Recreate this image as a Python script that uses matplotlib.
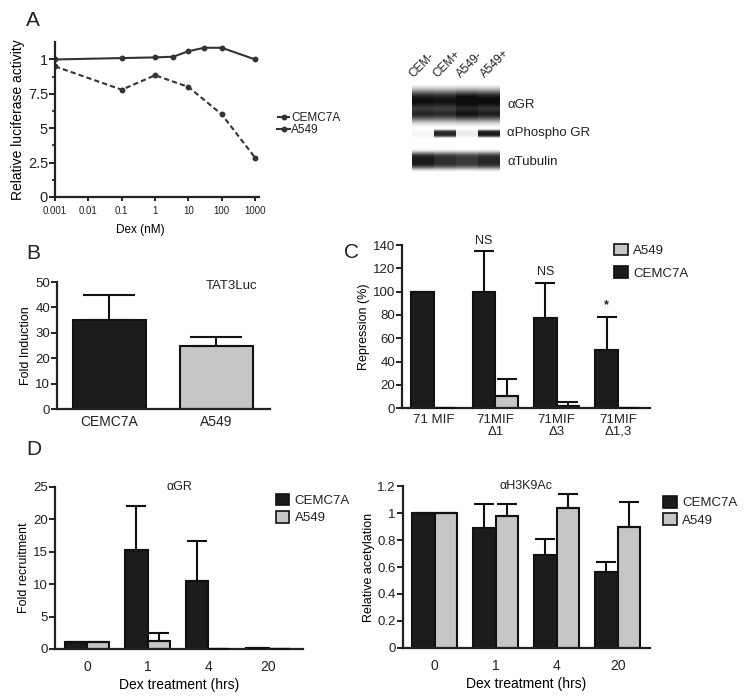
import numpy as np
import matplotlib
matplotlib.use('Agg')
import matplotlib.pyplot as plt
from matplotlib.patches import Patch

plt.rcParams['font.family'] = ['Liberation Sans', 'DejaVu Sans']
plt.rcParams['text.color'] = '#222222'
plt.rcParams['axes.edgecolor'] = '#222222'
plt.rcParams['xtick.color'] = '#222222'
plt.rcParams['ytick.color'] = '#222222'

DARK = '#1c1c1c'
LIGHT = '#c6c6c6'

# ---- data ----
# A: dose response
dex_a549 = [0.001, 0.1, 1, 3.5, 10, 30, 100, 1000]
luc_a549 = [10.0, 10.1, 10.15, 10.2, 10.6, 10.85, 10.85, 10.0]
dex_cem = [0.001, 0.1, 1, 10, 100, 1000]
luc_cem = [9.5, 7.8, 8.85, 8.0, 6.0, 2.85]

# A: western blot (band intensity per lane)
blot_lanes = ['CEM-', 'CEM+', 'A549-', 'A549+']
blot_rows = ['\u03b1GR', '\u03b1Phospho GR', '\u03b1Tubulin']
blot_gr = [0.92, 0.9, 1.0, 0.95]
blot_phospho = [0.04, 0.85, 0.08, 0.9]
blot_tubulin = [0.9, 0.82, 0.78, 0.85]

# B: TAT3Luc
b_cells = ['CEMC7A', 'A549']
b_fold = [35, 25]
b_err = [10, 3.5]

# C: repression
c_constructs = ['71 MIF', '71MIF\n\u03941', '71MIF\n\u03943', '71MIF\n\u03941,3']
c_cem = [100, 100, 77, 50]
c_cem_err = [0, 35, 30, 28]
c_a549 = [0, 10, 2, 0]
c_a549_err = [0, 15, 3, 0]
c_sig = ['', 'NS', 'NS', '*']
c_sig_y = [0, 138, 112, 83]

# D: ChIP
d_times = ['0', '1', '4', '20']
gr_cem = [1.0, 15.3, 10.5, 0.2]
gr_cem_err = [0, 6.7, 6.2, 0]
gr_a549 = [1.0, 1.3, 0.0, 0.05]
gr_a549_err = [0, 1.2, 0, 0]
ac_cem = [1.0, 0.89, 0.69, 0.56]
ac_cem_err = [0, 0.18, 0.12, 0.08]
ac_a549 = [1.0, 0.98, 1.04, 0.9]
ac_a549_err = [0, 0.09, 0.1, 0.18]

fig = plt.figure(figsize=(7.5, 7.0), dpi=100)


def style(ax, fs=9.5):
    for s in ['top', 'right']:
        ax.spines[s].set_visible(False)
    for s in ['left', 'bottom']:
        ax.spines[s].set_linewidth(1.6)
    ax.tick_params(axis='y', length=4, width=1.4, labelsize=fs, pad=1)
    ax.tick_params(axis='x', labelsize=fs)


def bars(ax, x, vals, errs, color, width, capsize):
    ax.bar(x, vals, width, color=color, edgecolor='#111111', linewidth=1.5, zorder=2)
    ax.errorbar(x, vals, yerr=[np.zeros(len(vals)), errs], fmt='none',
                ecolor='#111111', elinewidth=1.5, capsize=capsize, capthick=1.5, zorder=3)


# ---- panel A line plot ----
axA = fig.add_axes([0.0733, 0.7186, 0.272, 0.222])
style(axA)
axA.plot(dex_cem, luc_cem, '--', color='#333333', lw=1.5, dashes=(2.5, 1.5),
         marker='o', ms=3.2, label='CEMC7A')
axA.plot(dex_a549, luc_a549, '-', color='#333333', lw=1.5,
         marker='o', ms=3.2, label='A549')
axA.set_xscale('log')
axA.set_xlim(0.001, 1300)
axA.set_ylim(0, 11.3)
axA.set_xticks([0.001, 0.01, 0.1, 1, 10, 100, 1000])
axA.set_xticklabels(['0.001', '0.01', '0.1', '1', '10', '100', '1000'])
axA.xaxis.set_minor_locator(matplotlib.ticker.NullLocator())
axA.tick_params(axis='x', length=3, width=1.4, labelsize=7)
axA.set_yticks([0, 2.5, 5, 7.5, 10])
axA.set_yticklabels(['0', '2.5', '5', '7.5', '1'], fontsize=10.5)
axA.set_yticks([1.25, 3.75, 6.25, 8.75], minor=True)
axA.tick_params(axis='y', which='minor', length=2.5, width=1.2)
axA.set_xlabel('Dex (nM)', fontsize=8.5, labelpad=6, x=0.42)
axA.set_ylabel('Relative luciferase activity', fontsize=10, labelpad=2)
axA.legend(loc='center left', bbox_to_anchor=(1.06, 0.47), frameon=False,
           fontsize=8.5, handlelength=1.1, handletextpad=0.1, labelspacing=0.0,
           borderpad=0)

# ---- panel A western blot (bands built from lane intensities) ----
axW = fig.add_axes([412 / 750, 1 - 172 / 700, 88 / 750, 87 / 700])
axW.axis('off')
rows = np.arange(87)[:, None]
lane_w = 22


def band(intens, center, half, doublet=False):
    prof = np.exp(-0.5 * ((rows - center) / half) ** 4)
    if doublet:
        prof = prof * (1 - 0.2 * np.exp(-0.5 * ((rows - center - 3) / 3) ** 2))
    return prof * np.repeat(intens, lane_w)[None, :]


img = (1.05 * band(blot_gr, 20, 13, doublet=True) + band(blot_phospho, 48, 3)
       + band(blot_tubulin, 75, 7))
axW.imshow(1 - np.clip(img, 0, 0.95), cmap='gray', vmin=0, vmax=1, aspect='auto',
           interpolation='bicubic', extent=(0, 4, 87, 0))
for i, lab in enumerate(blot_lanes):
    fig.text((415 + i * 24) / 750, 1 - 80 / 700, lab, rotation=45, fontsize=8.5,
             ha='left', va='bottom', rotation_mode='anchor')
for lab, yy in zip(blot_rows, [105, 133, 162]):
    fig.text(507 / 750, 1 - yy / 700, lab, fontsize=9.5, va='center')

# ---- panel B ----
axB = fig.add_axes([0.076, 0.4157, 0.284, 0.1814])
style(axB)
bars(axB, [0, 1], b_fold, b_err, [DARK, LIGHT], 0.68, 19)
axB.set_xlim(-0.49, 1.5)
axB.set_ylim(0, 50)
axB.set_yticks([0, 10, 20, 30, 40, 50])
axB.set_xticks([0, 1])
axB.set_xticklabels(b_cells, fontsize=10)
axB.tick_params(axis='x', length=0, pad=4)
axB.set_ylabel('Fold Induction', fontsize=9, labelpad=2)
axB.text(0.82, 0.97, 'TAT3Luc', transform=axB.transAxes, fontsize=9.5,
         ha='center', va='center')

# ---- panel C ----
axC = fig.add_axes([0.536, 0.417, 0.3307, 0.2329])
style(axC)
xc = np.arange(len(c_constructs))
w = 0.37
bars(axC, xc - w / 2, c_cem, c_cem_err, DARK, w, 7)
bars(axC, xc + w / 2, c_a549, c_a549_err, LIGHT, w, 7)
axC.set_xlim(-0.52, 3.52)
axC.set_ylim(0, 140)
axC.set_yticks(np.arange(0, 141, 20))
axC.set_xticks(xc)
axC.set_xticklabels(c_constructs, fontsize=9.5, linespacing=1.0)
axC.tick_params(axis='x', length=0, pad=4)
axC.set_ylabel('Repression (%)', fontsize=9, labelpad=2)
for x, s, y in zip(xc, c_sig, c_sig_y):
    if s:
        axC.text(x - w / 2, y, s, ha='center', va='bottom', fontsize=9,
                 fontweight='bold' if s == '*' else 'normal', clip_on=False)
handlesC = [Patch(facecolor=LIGHT, edgecolor='#111111', lw=1.2, label='A549'),
            Patch(facecolor=DARK, edgecolor='#111111', lw=1.2, label='CEMC7A')]
axC.legend(handles=handlesC, loc='upper left', bbox_to_anchor=(0.83, 1.05),
           frameon=False, fontsize=9.5, handlelength=1.0, handleheight=1.0,
           handletextpad=0.4, labelspacing=0.7, borderpad=0)

# ---- panel D left ----
axD1 = fig.add_axes([0.0733, 0.0729, 0.3307, 0.2314])
style(axD1)
xd = np.arange(len(d_times))
w = 0.37
bars(axD1, xd - w / 2, gr_cem, gr_cem_err, DARK, w, 7)
bars(axD1, xd + w / 2, gr_a549, gr_a549_err, LIGHT, w, 7)
axD1.set_xlim(-0.53, 3.57)
axD1.set_ylim(0, 25)
axD1.set_yticks([0, 5, 10, 15, 20, 25])
axD1.set_xticks(xd)
axD1.set_xticklabels(d_times, fontsize=10)
axD1.tick_params(axis='x', length=0, pad=8)
axD1.set_ylabel('Fold recruitment', fontsize=9, labelpad=2)
axD1.set_xlabel('Dex treatment (hrs)', fontsize=10, labelpad=3)
axD1.text(0.5, 1.0, '\u03b1GR', transform=axD1.transAxes, fontsize=9,
          ha='center', va='center')
handlesD = [Patch(facecolor=DARK, edgecolor='#111111', lw=1.2, label='CEMC7A'),
            Patch(facecolor=LIGHT, edgecolor='#111111', lw=1.2, label='A549')]
axD1.legend(handles=handlesD, loc='upper left', bbox_to_anchor=(0.865, 1.0),
            frameon=False, fontsize=9.5, handlelength=1.0, handleheight=1.0,
            handletextpad=0.4, labelspacing=0.3, borderpad=0)

# ---- panel D right ----
axD2 = fig.add_axes([0.537, 0.0743, 0.329, 0.2314])
style(axD2)
bars(axD2, xd - w / 2, ac_cem, ac_cem_err, DARK, w, 7)
bars(axD2, xd + w / 2, ac_a549, ac_a549_err, LIGHT, w, 7)
axD2.set_xlim(-0.52, 3.52)
axD2.set_ylim(0, 1.2)
axD2.set_yticks([0, 0.2, 0.4, 0.6, 0.8, 1.0, 1.2])
axD2.set_yticklabels(['0', '0.2', '0.4', '0.6', '0.8', '1', '1.2'])
axD2.set_xticks(xd)
axD2.set_xticklabels(d_times, fontsize=10)
axD2.tick_params(axis='x', length=0, pad=8)
axD2.set_ylabel('Relative acetylation', fontsize=9, labelpad=2)
axD2.set_xlabel('Dex treatment (hrs)', fontsize=10, labelpad=3)
axD2.text(0.5, 1.0, '\u03b1H3K9Ac', transform=axD2.transAxes, fontsize=9,
          ha='center', va='center')
axD2.legend(handles=handlesD, loc='upper left', bbox_to_anchor=(1.03, 0.98),
            frameon=False, fontsize=9.5, handlelength=1.0, handleheight=1.0,
            handletextpad=0.4, labelspacing=0.3, borderpad=0)

# ---- panel letters ----
for lab, x, y in [('A', 0.044, 0.971), ('B', 0.045, 0.638), ('C', 0.469, 0.64),
                  ('D', 0.045, 0.358)]:
    fig.text(x, y, lab, fontsize=15, ha='center', va='center')

fig.savefig('out.png', dpi=100, facecolor='white')
